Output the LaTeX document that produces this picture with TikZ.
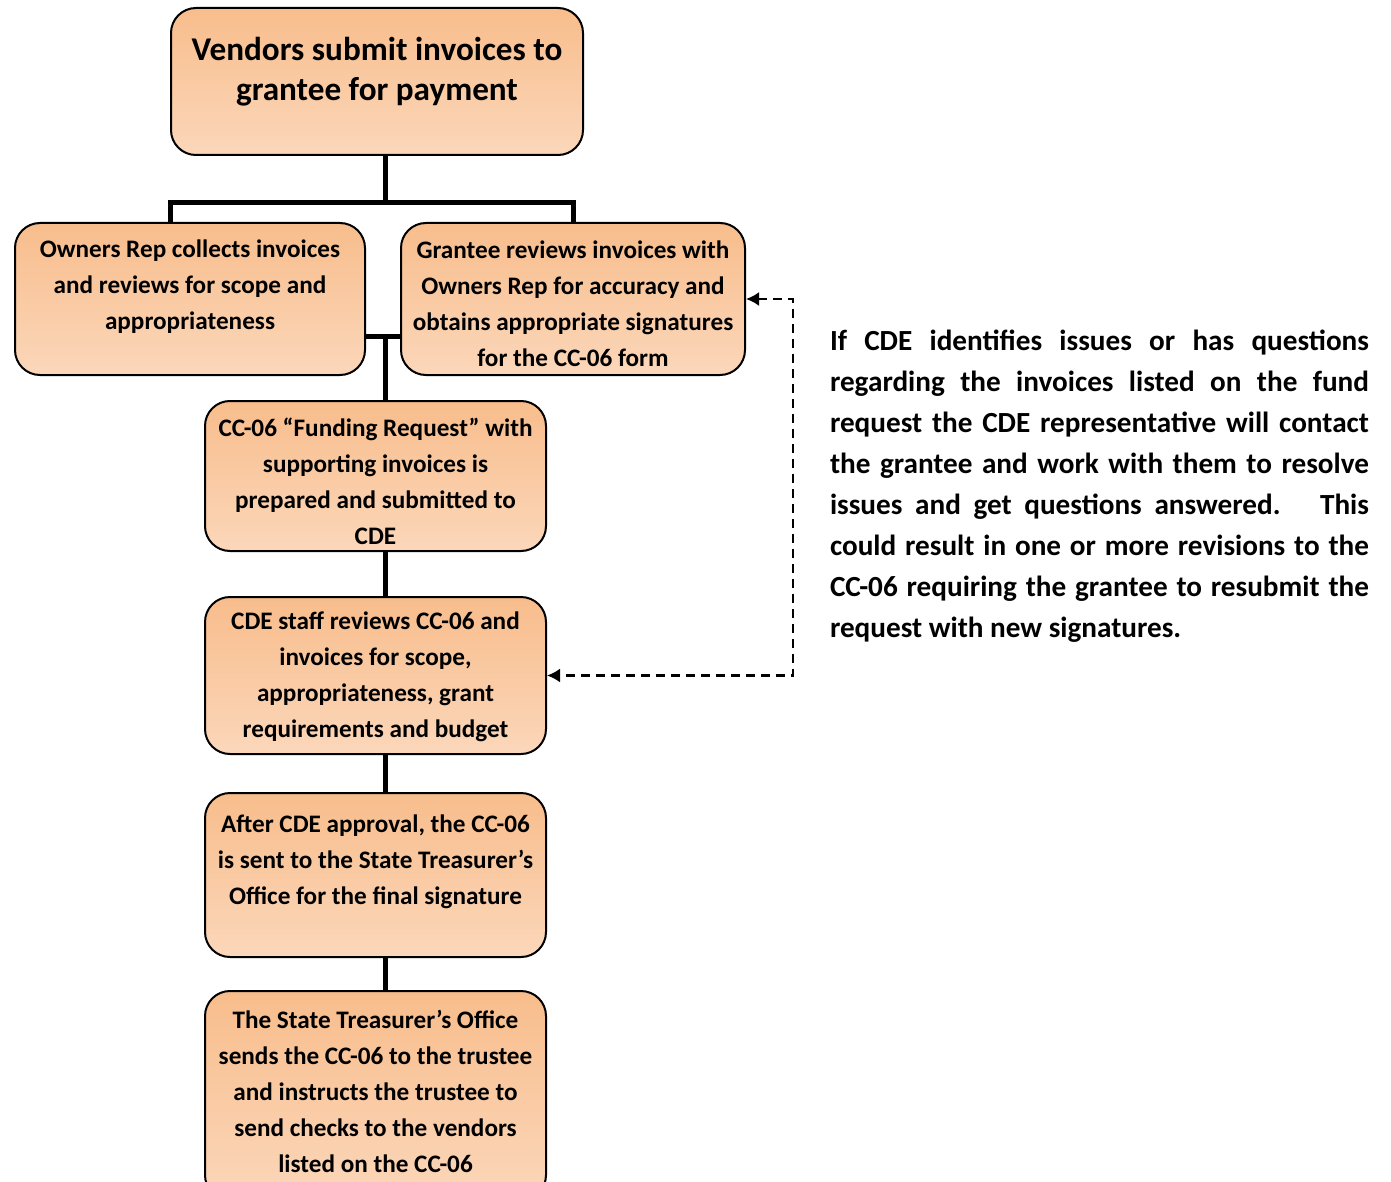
\documentclass[tikz,border=0pt]{standalone}
\usepackage{fontspec}
\setmainfont{Carlito}
\usetikzlibrary{arrows.meta}

\definecolor{boxtop}{RGB}{248,189,140}
\definecolor{boxbot}{RGB}{251,215,186}

\tikzset{every picture/.style={line width=0.75pt}}
\tikzset{
  stepbox/.style={draw, line width=1pt, rounded corners=12.5pt, top color=boxtop, bottom color=boxbot, inner sep=0pt},
  steptext/.style={align=center, inner sep=0pt, font=\fontsize{12.6}{18}\selectfont\bfseries},
  link/.style={line width=2.5pt},
  fback/.style={line width=1.1pt, dash pattern={on 4.5pt off 3pt}, {Latex[length=6.5pt,width=7pt]}-{Latex[length=6.5pt,width=7pt]}},
  note/.style={text width=269.5pt, align=justify, inner sep=0pt, font=\fontsize{14.6}{20.5}\selectfont\bfseries}
}

\begin{document}
\begin{tikzpicture}[x=0.5pt,y=0.5pt,yscale=-1,xscale=1]
        \useasboundingbox (0,0) rectangle (1391,1182);
        \clip (0,0) rectangle (1391,1182);
        %Shape: Rounded Rect [vendors]
        \node [stepbox, minimum width=206pt, minimum height=73.5pt] (vend) at (377,81.5) {};
        %Shape: Rounded Rect [owners rep]
        \node [stepbox, minimum width=175pt, minimum height=76pt] (owner) at (190,299) {};
        %Shape: Rounded Rect [grantee]
        \node [stepbox, minimum width=172pt, minimum height=76pt] (grant) at (573,299) {};
        %Shape: Rounded Rect [funding request]
        \node [stepbox, minimum width=170.5pt, minimum height=75pt] (fund) at (375.5,476) {};
        %Shape: Rounded Rect [cde review]
        \node [stepbox, minimum width=170.5pt, minimum height=78.5pt] (staff) at (375.5,675.5) {};
        %Shape: Rounded Rect [approval]
        \node [stepbox, minimum width=170.5pt, minimum height=82pt] (appr) at (375.5,875) {};
        %Shape: Rounded Rect [treasurer]
        \node [stepbox, minimum width=170.5pt, minimum height=104.5pt] (treas) at (375.5,1095.5) {};

        \coordinate (split) at (385,203);
        \coordinate (lbend) at (170,203);
        \coordinate (rbend) at (573,203);
        \coordinate (join) at (385,336);
        \coordinate (loop) at (793,298);

        %Straight Lines [tree]
        \draw [link] (split |- vend.south) -- (split) ;
        \draw [link] (lbend |- owner.north) -- (lbend) -- (rbend) -- (rbend |- grant.north) ;
        \draw [link] (owner.east |- join) -- (grant.west |- join) ;
        \draw [link] (join) -- (join |- fund.north) ;
        \draw [link] (join |- fund.south) -- (join |- staff.north) ;
        \draw [link] (join |- staff.south) -- (join |- appr.north) ;
        \draw [link] (join |- appr.south) -- (join |- treas.north) ;
        %Dashed Lines [feedback]
        \draw [fback] (grant.east) -| (loop |- staff.east) -- (staff.east) ;

        % Text Node
        \node [steptext, font=\fontsize{16.6}{20}\selectfont\bfseries] (vendt) at (377,71.5) {Vendors submit invoices to\\grantee for payment};
        % Text Node
        \node [steptext] (ownert) at (190,287) {Owners Rep collects invoices\\and reviews for scope and\\appropriateness};
        % Text Node
        \node [steptext] (grantt) at (573,303.5) {Grantee reviews invoices with\\Owners Rep for accuracy and\\obtains appropriate signatures\\for the CC-06 form};
        % Text Node
        \node [steptext] (fundt) at (375.5,481) {CC-06 “Funding Request” with\\supporting invoices is\\prepared and submitted to\\CDE};
        % Text Node
        \node [steptext] (stafft) at (375.5,677) {CDE staff reviews CC-06 and\\invoices for scope,\\appropriateness, grant\\requirements and budget};
        % Text Node
        \node [steptext] (apprt) at (375.5,862) {After CDE approval, the CC-06\\is sent to the State Treasurer’s\\Office for the final signature};
        % Text Node
        \node [steptext] (treast) at (375.5,1091) {The State Treasurer’s Office\\sends the CC-06 to the trustee\\and instructs the trustee to\\send checks to the vendors\\listed on the CC-06};
        % Text Node
        \node [note] (issue) at (1099.5,486.5) {If CDE identifies issues or has questions\linebreak regarding the invoices listed on the fund\linebreak request the CDE representative will contact\linebreak the grantee and work with them to resolve\linebreak issues and get questions answered.~ This\linebreak could result in one or more revisions to the\linebreak CC-06 requiring the grantee to resubmit the\linebreak request with new signatures.};
\end{tikzpicture}
\end{document}
